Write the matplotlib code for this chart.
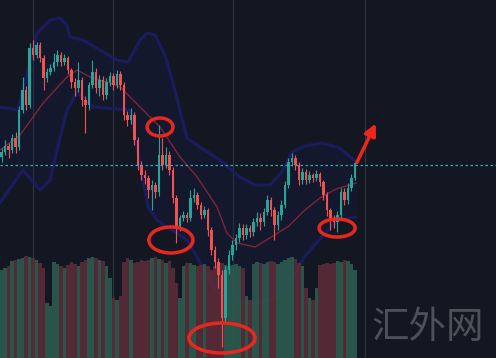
import matplotlib.pyplot as plt
from matplotlib.patches import Ellipse
import numpy as np

plt.rcParams['font.family'] = ['Noto Sans CJK SC', 'DejaVu Sans']

# candles (price units, one per bar)
opens = [201, 206, 212, 208, 220, 211, 248, 268, 253, 310, 303, 313, 300, 280, 286, 290, 296, 303, 296, 300,
         288, 276, 270, 278, 258, 253, 273, 286, 270, 278, 263, 276, 282, 273, 284, 273, 243, 238, 243, 218,
         193, 183, 180, 168, 173, 166, 203, 193, 203, 188, 160, 130, 140, 143, 140, 160, 163, 153, 143, 148,
         128, 108, 96, 83, 40, 88, 103, 113, 120, 130, 123, 130, 126, 136, 140, 136, 146, 158, 148, 133,
         143, 153, 173, 196, 200, 193, 178, 186, 178, 183, 180, 184, 176, 163, 148, 140, 136, 143, 166, 158,
         170, 180]
closes = [206, 212, 208, 220, 211, 248, 268, 253, 310, 303, 313, 300, 280, 286, 290, 296, 303, 296, 300, 288,
          276, 270, 278, 258, 253, 273, 286, 270, 278, 263, 276, 282, 273, 284, 273, 243, 238, 243, 218, 193,
          183, 180, 168, 173, 166, 203, 193, 203, 188, 160, 130, 140, 143, 140, 160, 163, 153, 143, 148, 128,
          108, 96, 83, 40, 88, 103, 113, 120, 130, 123, 130, 126, 136, 140, 136, 146, 158, 148, 133, 143,
          153, 173, 196, 200, 193, 178, 186, 178, 183, 180, 184, 176, 163, 148, 140, 136, 143, 166, 158, 170,
          180, 195]
highs = [210, 218, 215, 224, 226, 252, 281, 272, 315, 318, 316, 316, 303, 290, 294, 305, 308, 306, 304, 302,
         290, 280, 296, 281, 262, 276, 298, 290, 283, 282, 280, 286, 285, 288, 287, 276, 247, 250, 246, 221,
         197, 188, 183, 178, 176, 233, 220, 211, 207, 191, 163, 143, 147, 146, 168, 170, 166, 156, 152, 150,
         131, 112, 100, 88, 92, 108, 118, 124, 135, 134, 134, 133, 140, 146, 145, 150, 163, 161, 151, 147,
         158, 177, 200, 205, 203, 196, 190, 189, 187, 185, 188, 186, 178, 166, 150, 143, 147, 170, 170, 175,
         184, 196]
lows = [196, 203, 200, 205, 205, 208, 245, 248, 250, 298, 300, 296, 268, 276, 283, 287, 292, 292, 293, 284,
        270, 262, 266, 252, 225, 248, 270, 265, 262, 258, 259, 272, 268, 270, 268, 238, 232, 234, 213, 188,
        178, 174, 160, 148, 160, 162, 188, 190, 183, 155, 115, 127, 137, 136, 137, 156, 149, 139, 140, 122,
        103, 90, 70, 11, 35, 84, 98, 108, 116, 118, 119, 121, 122, 132, 128, 132, 143, 142, 118, 128,
        138, 150, 170, 192, 188, 173, 174, 174, 175, 176, 177, 172, 158, 142, 128, 130, 126, 140, 153, 154,
        167, 178]
volumes = [88, 90, 92, 97, 98, 99, 100, 102, 101, 100, 98, 95, 90, 55, 52, 96, 94, 92, 90, 93,
           96, 94, 92, 96, 98, 100, 101, 100, 98, 97, 92, 80, 60, 58, 62, 96, 100, 98, 95, 96,
           98, 97, 98, 100, 101, 99, 98, 95, 97, 90, 75, 60, 92, 95, 95, 93, 92, 93, 94, 92,
           88, 92, 94, 95, 93, 92, 93, 94, 92, 90, 62, 58, 94, 96, 95, 94, 96, 97, 96, 94,
           96, 98, 100, 101, 99, 95, 92, 70, 60, 58, 70, 93, 94, 95, 94, 95, 97, 96, 98, 97,
           94, 88]

# bollinger bands (bar index, price)
upper_pos = [-0.43, 4.7, 7.6, 10.1, 13.9, 16.7, 18.7, 19.6, 23.3, 28.1, 33, 36.1, 39.6, 41.6, 43.9, 46.7,
             49, 53, 56.7, 62.4, 68.1, 72.4, 76.7, 80.1, 83, 86.7, 91.6, 96.7, 101.3]
upper = [251, 248, 288, 325, 338, 340, 333, 321, 318, 308, 298, 296, 318, 325, 323, 303,
         275, 220, 211, 198, 181, 173, 173, 186, 206, 212, 215, 210, 196]
lower_pos = [-0.43, 6.1, 11, 13.9, 15.9, 18.7, 21.6, 26.1, 36.7, 41.9, 44.4, 47.3, 53, 56.7, 61, 65.3,
             73, 78.1, 82.4, 87, 92, 95.9, 99.6, 101.3]
lower = [155, 188, 168, 178, 208, 248, 266, 251, 248, 151, 138, 131, 118, 96, 68, 58,
         55, 60, 76, 103, 123, 137, 140, 141]
mid_pos = [-0.43, 5.3, 11.9, 18.7, 21.6, 25.3, 31, 33.9, 39.6, 45.3, 51, 55.9, 61.6, 64.4, 67.3,
           72.4, 76.7, 82.1, 86.7, 91, 95.6, 101.3]
mid = [208, 223, 255, 281, 288, 281, 275, 271, 251, 231, 201, 181, 151, 125, 115,
       111, 120, 132, 148, 160, 169, 175]

last_price = 193
session_lines = [9, 31.9, 66.1, 103.9]

BG = '#131722'
UP = '#26a69a'
DOWN = '#ef5350'

fig = plt.figure(figsize=(4.96, 3.58), dpi=100, facecolor=BG)
ax = fig.add_axes([0, 0, 1, 1])
ax.set_facecolor(BG)
ax.set_xlim(-0.43, 141.3)
ax.set_ylim(0, 358)
ax.axis('off')

for xv in session_lines:
    ax.axvline(xv, color='#2f333e', lw=0.9, zorder=0)

idx = np.arange(len(closes))
o = np.array(opens)
c = np.array(closes)
up = c >= o

# bands
xs = np.linspace(-0.43, 101.3, 400)
up_i = np.interp(xs, upper_pos, upper)
lo_i = np.interp(xs, lower_pos, lower)
ax.fill_between(xs, lo_i, up_i, color='#1a1e4c', alpha=0.28, lw=0, zorder=1)
ax.plot(upper_pos, upper, color='#1a1c5e', lw=2.2, zorder=2, solid_capstyle='round')
ax.plot(lower_pos, lower, color='#1a1c5e', lw=2.2, zorder=2, solid_capstyle='round')

# volume at the bottom, over the bands
vcol = np.where(up, '#2d5d50', '#5e2c39')
ax.bar(idx, volumes, width=1.0, color=vcol, linewidth=0, alpha=0.88, zorder=2.5)

ax.plot(mid_pos, mid, color='#7e2536', lw=1.0, zorder=3)

# candles
col = np.where(up, UP, DOWN)
ax.vlines(idx, lows, highs, colors=col, lw=0.8, zorder=3.5)
body_lo = np.minimum(o, c)
body_h = np.maximum(np.abs(c - o), 1)
ax.bar(idx, body_h, bottom=body_lo, width=0.65, color=col, linewidth=0, zorder=4)

ax.axhline(last_price, color='#3fa8b0', lw=0.9, ls=(0, (2, 2)), zorder=5)

# annotations
for cx, cy, w, h in [(45.3, 231, 7.4, 18), (48.4, 118, 12.6, 26), (63, 20, 18.9, 30), (95.9, 130, 10.3, 18)]:
    ax.add_patch(Ellipse((cx, cy), w, h, fill=False, edgecolor='#e8281e', lw=2.5, zorder=6))

ax.annotate('', xy=(107.3, 237), xytext=(101.2, 193),
            arrowprops=dict(arrowstyle='-|>,head_length=0.7,head_width=0.35', color='#f0261b', lw=2.5),
            zorder=6)

fig.text(0.862, 0.084, '汇外网', color='#4d5058', fontsize=27, ha='center', va='center')

fig.savefig('out.png', dpi=100, facecolor=BG)
